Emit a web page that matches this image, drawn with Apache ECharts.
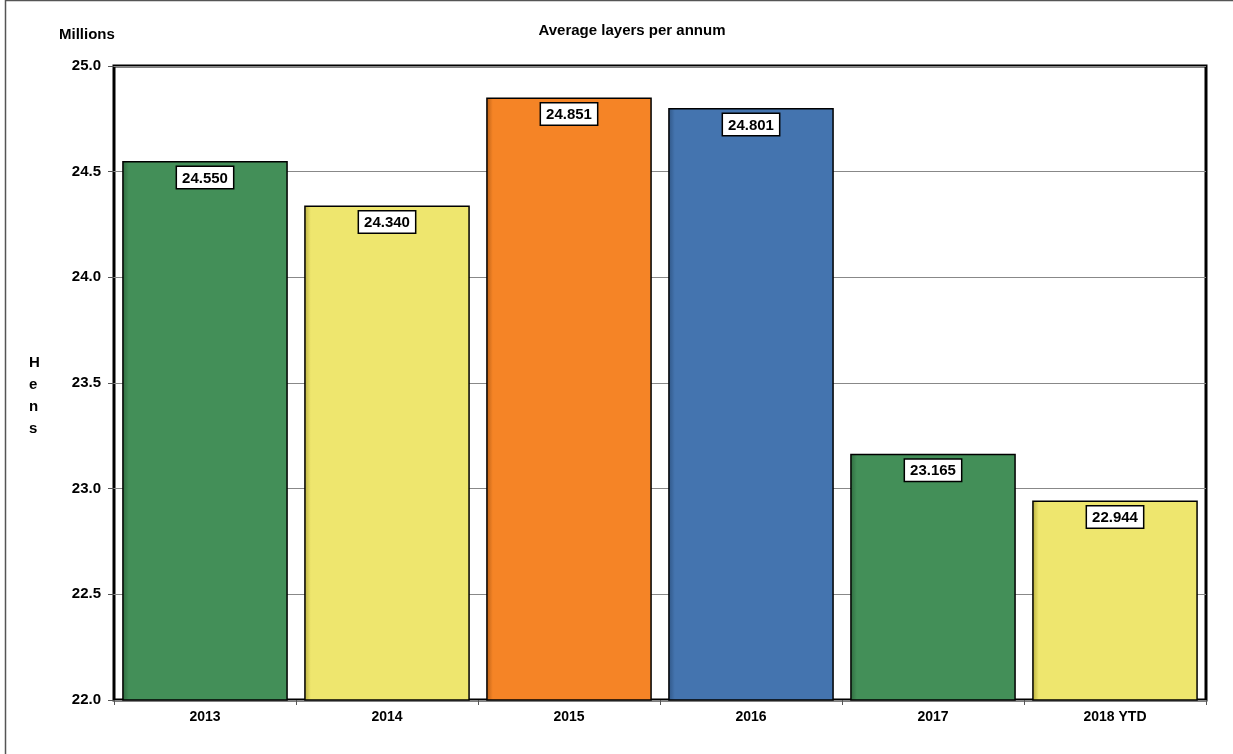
<!DOCTYPE html>
<html>
<head>
<meta charset="utf-8">
<style>
  html, body { margin: 0; padding: 0; background: #fff; }
  #chart { width: 1233px; height: 754px; }
</style>
<script src="https://cdn.jsdelivr.net/npm/echarts@6/dist/echarts.min.js"></script>
</head>
<body>
<div id="chart"></div>
<script>
// Average number of laying hens per year, in millions
const categories = ['2013', '2014', '2015', '2016', '2017', '2018 YTD'];
const hens = [24.550, 24.340, 24.851, 24.801, 23.165, 22.944];
const barColors = ['#438f58', '#eee66e', '#f58426', '#4474af', '#438f58', '#eee66e'];
const shadeColors = ['#2f6a3f', '#b8ad3e', '#b85e15', '#2f5585', '#2f6a3f', '#b8ad3e'];
const yTicks = { min: 22.0, max: 25.0, step: 0.5 };

const font = 'Arial, "Liberation Sans", sans-serif';

function barFill(i) {
  return {
    type: 'linear', x: 0, y: 0, x2: 1, y2: 0,
    colorStops: [
      { offset: 0, color: shadeColors[i] },
      { offset: 0.04, color: barColors[i] },
      { offset: 1, color: barColors[i] }
    ]
  };
}

const chart = echarts.init(document.getElementById('chart'), null, { renderer: 'canvas' });

chart.setOption({
  animation: false,
  backgroundColor: '#fff',
  textStyle: { fontFamily: font },
  title: {
    text: 'Average layers per annum',
    left: 627, top: 18, textAlign: 'center',
    textStyle: { fontSize: 15, fontWeight: 'bold', color: '#000', fontFamily: font }
  },
  graphic: [
    {
      type: 'rect',
      shape: { x: 5.5, y: 0.5, width: 1300, height: 800 },
      style: { fill: 'none', stroke: '#555', lineWidth: 1.5 },
      silent: true
    },
    {
      type: 'text', left: 59, top: 27,
      style: { text: 'Millions', font: 'bold 15px ' + font, fill: '#000' }
    },
    {
      type: 'text', left: 29, top: 352,
      style: { text: 'H\ne\nn\ns', font: 'bold 15px ' + font, fill: '#000', lineHeight: 22, align: 'center', x: 6 }
    }
  ],
  grid: {
    left: 114, right: 27, top: 66, bottom: 54,
    show: true, borderColor: '#000', borderWidth: 3, backgroundColor: '#fff'
  },
  xAxis: {
    type: 'category',
    data: categories,
    axisLine: { show: false },
    axisTick: { show: true, inside: false, length: 5, lineStyle: { color: '#555', width: 1 } },
    axisLabel: { margin: 10, fontSize: 14, fontWeight: 'bold', color: '#000', fontFamily: font }
  },
  yAxis: {
    type: 'value',
    min: yTicks.min, max: yTicks.max, interval: yTicks.step,
    axisLine: { show: false },
    axisTick: { show: true, inside: false, length: 6, lineStyle: { color: '#555', width: 1 } },
    axisLabel: {
      margin: 13, fontSize: 15, fontWeight: 'bold', color: '#000', fontFamily: font,
      formatter: v => v.toFixed(1)
    },
    splitLine: { show: true, lineStyle: { color: '#888', width: 1 } }
  },
  series: [{
    type: 'bar',
    barCategoryGap: '9%',
    data: hens.map((v, i) => ({
      value: v,
      itemStyle: { color: barFill(i), borderColor: '#000', borderWidth: 1.5 }
    })),
    label: {
      show: true,
      position: 'insideTop',
      distance: 6,
      formatter: p => p.value.toFixed(3),
      fontSize: 15, fontWeight: 'bold', color: '#000', fontFamily: font,
      backgroundColor: '#fff', borderColor: '#000', borderWidth: 1.5,
      padding: [4, 5, 2, 5]
    }
  }]
});
</script>
</body>
</html>
